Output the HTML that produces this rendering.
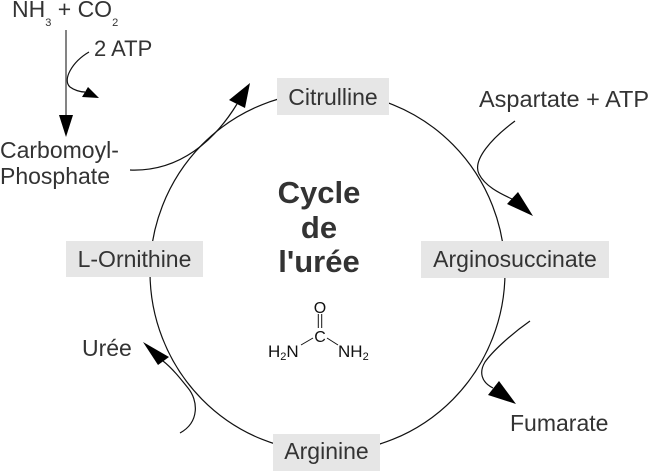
<!DOCTYPE html>
<html>
<head>
<meta charset="utf-8">
<style>
html,body{margin:0;padding:0;background:#fff;}
svg{display:block;}
text{font-family:"Liberation Sans",Arial,sans-serif;fill:#333;}
</style>
</head>
<body>
<svg width="653" height="471" viewBox="0 0 653 471" xmlns="http://www.w3.org/2000/svg">
  <!-- main cycle -->
  <ellipse cx="327.5" cy="272" rx="177.5" ry="180" fill="none" stroke="#111" stroke-width="1.2"/>

  <!-- boxes -->
  <rect x="277" y="78" width="112" height="37" fill="#e6e6e6"/>
  <text x="333" y="105" font-size="23" text-anchor="middle">Citrulline</text>

  <rect x="273" y="434" width="107" height="37" fill="#e6e6e6"/>
  <text x="326.5" y="459" font-size="23" text-anchor="middle">Arginine</text>

  <rect x="66" y="241" width="137" height="36" fill="#e6e6e6"/>
  <text x="134.5" y="267" font-size="23" text-anchor="middle">L-Ornithine</text>

  <rect x="421" y="241" width="188" height="37" fill="#e6e6e6"/>
  <text x="515" y="267" font-size="23" text-anchor="middle">Arginosuccinate</text>

  <!-- NH3 + CO2 -->
  <text x="12" y="17" font-size="23">NH<tspan font-size="11" dy="9">3</tspan><tspan dy="-9"> + CO</tspan><tspan font-size="11" dy="9">2</tspan></text>
  <line x1="66" y1="30" x2="66" y2="116" stroke="#666" stroke-width="1.6"/>
  <polygon points="59,115 73,115 66,137" fill="#000"/>

  <!-- 2 ATP -->
  <text x="94" y="56" font-size="22">2 ATP</text>
  <path d="M89,52 C 72,62 62,80 70,87 C 74,90 80,92 85,92" fill="none" stroke="#111" stroke-width="1.2"/>
  <polygon points="82,97 88,87 99,98" fill="#000"/>

  <!-- Carbomoyl-Phosphate -->
  <text x="0" y="158" font-size="23">Carbomoyl-</text>
  <text x="0" y="184" font-size="23">Phosphate</text>
  <path d="M130,170 C 180,172 215,140 237,104" fill="none" stroke="#111" stroke-width="1.2"/>
  <polygon points="229,100 245,108 250,83" fill="#000"/>

  <!-- Aspartate + ATP -->
  <text x="479" y="107" font-size="23.5">Aspartate + ATP</text>
  <path d="M515,121 C 492,138 472,160 479,174 C 485,186 499,193 512,199" fill="none" stroke="#111" stroke-width="1.2"/>
  <polygon points="507,204 518,192 533,216" fill="#000"/>

  <!-- Fumarate -->
  <path d="M530,321 C 510,335 492,352 485,362 C 479,372 481,382 493,388" fill="none" stroke="#111" stroke-width="1.2"/>
  <polygon points="488,395 499,381 516,404" fill="#000"/>
  <text x="510" y="431" font-size="23">Fumarate</text>

  <!-- Urée -->
  <path d="M180,433 C 200,422 198,400 188,388 C 180,378 172,368 163,361" fill="none" stroke="#111" stroke-width="1.2"/>
  <polygon points="158,365 169,357 143,342" fill="#000"/>
  <text x="82" y="356" font-size="23">Urée</text>

  <!-- Title -->
  <text x="319" y="203" font-size="31" font-weight="bold" text-anchor="middle">Cycle</text>
  <text x="319" y="238" font-size="31" font-weight="bold" text-anchor="middle">de</text>
  <text x="319" y="272" font-size="31" font-weight="bold" text-anchor="middle">l'urée</text>

  <!-- Urea structure -->
  <text x="320" y="313" font-size="16" text-anchor="middle" style="fill:#111">O</text>
  <line x1="318.3" y1="314" x2="318.3" y2="328" stroke="#111" stroke-width="1"/>
  <line x1="321.7" y1="314" x2="321.7" y2="328" stroke="#111" stroke-width="1"/>
  <text x="320" y="342" font-size="16" text-anchor="middle" style="fill:#111">C</text>
  <line x1="301" y1="345" x2="313" y2="338" stroke="#111" stroke-width="1"/>
  <line x1="327" y1="338" x2="338" y2="345" stroke="#111" stroke-width="1"/>
  <text x="268" y="357" font-size="17" style="fill:#111">H<tspan font-size="11" dy="3">2</tspan><tspan dy="-3">N</tspan></text>
  <text x="338" y="357" font-size="17" style="fill:#111">NH<tspan font-size="11" dy="3">2</tspan></text>
</svg>
</body>
</html>
